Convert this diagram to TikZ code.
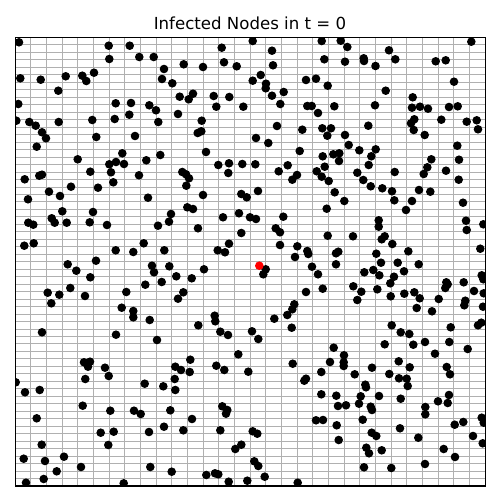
\documentclass[tikz,border=0pt]{standalone}
\usepackage{fontspec}
\setmainfont{DejaVu Sans}
\usepackage{tikz}
\definecolor{gridgray}{HTML}{B0B0B0}
\definecolor{infred}{HTML}{FF0000}
\definecolor{nodeblack}{HTML}{000000}
\tikzset{
  gridline/.style={draw=gridgray, line width=0.567pt},
  axesframe/.style={draw=black, line width=0.7pt},
  nodedot/.style={fill=nodeblack},
  infecteddot/.style={fill=infred},
  plottitle/.style={anchor=base, inner sep=0pt, font=\fontsize{9.45}{11}\selectfont}
}
\begin{document}
\begin{tikzpicture}[x=0.02cm, y=-0.02cm]
  \fill[white] (0,0) rectangle (500,500);
  \useasboundingbox (0,0) rectangle (500,500);
  \node[plottitle] (title) at (250,29.3) {Infected Nodes in t = 0};
  % lattice
  \foreach \k in {1,...,29}
    \draw[gridline] ({floor(15.3+\k*15.667)+0.5},37.5) -- ({floor(15.3+\k*15.667)+0.5},486);
  \foreach \k in {1,...,59}
    \draw[gridline] (15.3,{floor(37.5+\k*7.475)+0.5}) -- (485.3,{floor(37.5+\k*7.475)+0.5});
  \begin{scope}
    \clip (15.3,37.5) rectangle (485.3,486);
    % healthy nodes
    \foreach \px/\py in {19/42.3,108.7/45.7,129.7/45.7,109.3/59,20.3/78.3,40.7/79.7,65.7/76.3,82.3/75.7,86.3/81,94/72.7,
      58.3/90.7,18.3/104,115.7/103.3,131/103,16.3/120.7,29.3/122,35.7/125.7,58.7/122,92.3/120,114.7/119,
      129.3/114.7,42/132.3,46/138.3,96.3/137,135/136,36.7/146.7,122.3/153.3,77.7/159.3,109.3/164.3,116/162,
      124/164,90.3/171.7,111/172.3,24.7/179.3,39.3/175.7,42/174.7,113.3/182.3,71/186.7,98/187.7,49/191.7,
      60/196,28/199.3,62.3/211.3,93/212,28.3/222.7,33.3/224.7,51.7/218.3,54.7/222.7,66.7/222.7,89.7/222.3,
      107/225,24.3/245.7,33.7/243.3,115.7/250.3,96/260.7}
      \fill[nodedot] (\px,\py) circle (0.086cm);
    \foreach \px/\py in {221.7/47.7,139.3/57,153.7/57,183.7/64.3,203/67,224/62.3,236.7/66.3,164/69,162/79,172.3/83.3,
      179.7/96.7,188.7/99.3,193/93.7,213.7/96,229.3/97,149.3/105.3,156/110.3,216.3/106.7,243.3/106.7,178/114,
      158.3/122,201.7/120.7,197.7/133,201.3/131.3,206/152,160.3/155,146.3/160.3,218.3/165,229/163.3,242.3/164,
      228.3/173,139/175.3,182.3/172,186/174.3,189/178.3,186.3/185.7,203/195,241.3/194,246.7/197.3,148/197.7,
      187.3/207.3,193/209,171/214,169/221.7,158/225.7,223/217.3,239/213.3,250/217.3,256/219,198/228.3,
      241.3/233,143.7/243.3,133.3/252,164.3/250.3,217.7/250.3,225/252.3,229/243.7}
      \fill[nodedot] (\px,\py) circle (0.086cm);
    \foreach \px/\py in {252.7/41,321.7/41,340.7/40.7,347.3/47,272/50.7,324.3/59.3,345/61.7,363.7/58.3,364/61,375.5/66,
      273/65.3,260.7/75,252.7/80.7,266/83.7,265.7/88.3,272/95.7,283.7/92,280.3/104,306/80,316/78.7,
      327.7/85.7,307.3/106,311.7/106,318/113,334.3/106.3,277/126,302.3/129.7,322.3/128.3,331/128.3,327.3/135.7,
      345/135,368.3/125.7,256/138,268.3/143,299.7/151,348.7/145,359.3/150.3,322.7/156.3,333.3/154.3,339.3/153.3,
      339/161,371.3/156.3,255.3/164.3,287.7/165.3,278.7/171.3,297/175,292.3/179.7,324.7/166.7,316.7/171.3,321.7/176.7,
      328.7/181,368.7/165,357.3/172.7,363.3/180,370.7/186.3,258/191,334.7/192.3,344.3/201,326.7/208.7,283.3/216.7,
      275.7/228.3,280/232.3,327.7/235.7,353/236.3,280/245,297.3/246.3,307.3/251,308.3/254,336/253.3,338.3/251.7,
      295/257}
      \fill[nodedot] (\px,\py) circle (0.086cm);
    \foreach \px/\py in {471.3/41.7,389/50.3,395.3/59.3,435.7/61.3,445.7/60.3,454/81.7,385.7/90.7,412.7/97.3,375/105.3,412/107.7,
      420/106.7,428/108.7,449/107,457.7/106.3,411/123.3,414.3/119.3,413.7/130,441.3/119.7,466.7/121.7,476.7/120.3,
      478/129.3,424.7/135,375.7/149.3,457.3/145.7,459/159.7,431.3/159.3,427.3/167.3,423.7/174,394.7/172,446/170.7,
      458.7/179.7,382.3/188.3,392/191.3,394.3/200.3,419/190,430.3/191.7,412/201,406/210,463/202.7,378.7/220.3,
      378.7/226.7,466/220.7,466.7/230,483.3/224.3,381.7/239.3,384.7/236.3,392.3/244,376.3/253.7,408.3/251.3,480.3/248.7}
      \fill[nodedot] (\px,\py) circle (0.086cm);
    \foreach \px/\py in {67.7/264.3,76.3/270.7,90.3/277.3,70.3/288,47.7/292.7,59.3/294.7,51.3/303.3,85/296,126.3/292,121.7/307.7,
      42/332.3,116/334.7,84/362.3,90/361.7,88/366.7,105/367.7,108.7/376,85.3/379,15.7/382.3,25/392.3,
      39.7/390,82.7/405.7,110.3/410.7,36.7/418.3,100.7/432.7,113.7/431.7,41.7/444.7,108.3/445,23.7/458.7,45/461,
      64/456.7,81/467,56.7/471.3,43.7/479,26/482.7,123.7/483.3}
      \fill[nodedot] (\px,\py) circle (0.086cm);
    \foreach \px/\py in {152/265.7,154/272.3,169.3/266.3,176.3/276.3,191.7/278.3,204/269.3,145.3/284.7,161.7/282,183.3/292.3,178/298.7,
      133.3/311,133.3/317.3,149.7/320,214.7/315.7,215.3/321.3,198.3/325.3,220.3/331.7,228/335,157/340,238.3/354.3,
      190.3/359.7,175.3/366.7,181/370,189.7/372,216.3/365.7,224.3/370,248.3/371.7,174.7/379,144.7/383.7,163.3/386.3,
      175.3/390,134/410.7,140.7/414,170.3/410.3,192/419,222.3/406.3,227.3/410,226/413.7,164/426.7,149/432,
      183.3/430.3,220.3/430.3,241.3/444.7,235.3/449,150.3/467,171.7/471.7,206.3/475,215/473.3,218.3/474.3,228.7/481.7,
      247.3/480.7}
      \fill[nodedot] (\px,\py) circle (0.086cm);
    \foreach \px/\py in {265.7/269.3,263.3/274.3,312/266.7,318/274.3,336/264.3,364.3/272.3,353.3/286.3,361.3/291.7,357.3/300,322.7/288.7,
      306/292,294.3/304.3,292.3/309.3,287.3/315,274.3/318.7,291.7/327.7,252/331.3,258.3/339,333.7/347.7,344/355.3,
      330/362,343.7/362.3,343.7/366,292.7/363.7,372/367.7,321.3/372,354.7/374.3,306/378.7,304.3/380.7,365.3/384.7,
      366/387.3,321.3/394.3,336.3/395.7,360.7/396.3,359/403.7,338/406,346/405.3,370.7/406.7,372/410,316/420.3,
      323/420,362.7/419.7,336.7/425.3,252.7/431.3,257.3/433.7,338.7/440,366.3/447.7,369/453.3,254.3/461.3,258.3/466,
      364/467.3,264.7/476.7,297.7/482.7}
      \fill[nodedot] (\px,\py) circle (0.086cm);
    \foreach \px/\py in {381/262.7,397.7/262.7,418.7/264.3,373.3/270,379.3/275.3,394/276.7,390.3/283.3,404/271.3,377.3/289.3,390.7/296.3,
      404.3/293.7,414.3/292.3,419.7/298.3,416.7/308,432/311.3,438.7/299,446.3/282.3,447.7/284.3,445.3/288,463.7/282.3,
      474/291,481.7/275.3,483.3/279.3,483.7/293.3,465.3/300.7,464.3/305.3,483/306.7,391.7/325.3,400.7/332.3,409.3/334,
      384.7/344.3,413.3/344.7,425/342,450.7/327.3,449.3/342,478/325.3,481.3/322.7,435/353.7,467.7/349,398.7/361.3,
      409.7/367.3,389.3/374,399/378.3,406.7/378.7,407.7/386,446.7/367,450/374.3,379/396,400.7/398.7,449/395,
      447.7/403,438/401.3,425.3/407,425.3/414.3,454.7/424.7,463.3/422,481.7/417.7,483.7/422.7,400/428.3,371.7/432.7,
      376.3/436,418.3/437.7,473/436,482.7/443.3,381.7/450.3,443.7/449,455/457,425/464,391.3/468}
      \fill[nodedot] (\px,\py) circle (0.086cm);
    % infected node
    \fill[infecteddot] (259.3,265.7) circle (0.086cm);
  \end{scope}
  \draw[axesframe] (15.3,37.5) rectangle (485.3,486);
\end{tikzpicture}
\end{document}
